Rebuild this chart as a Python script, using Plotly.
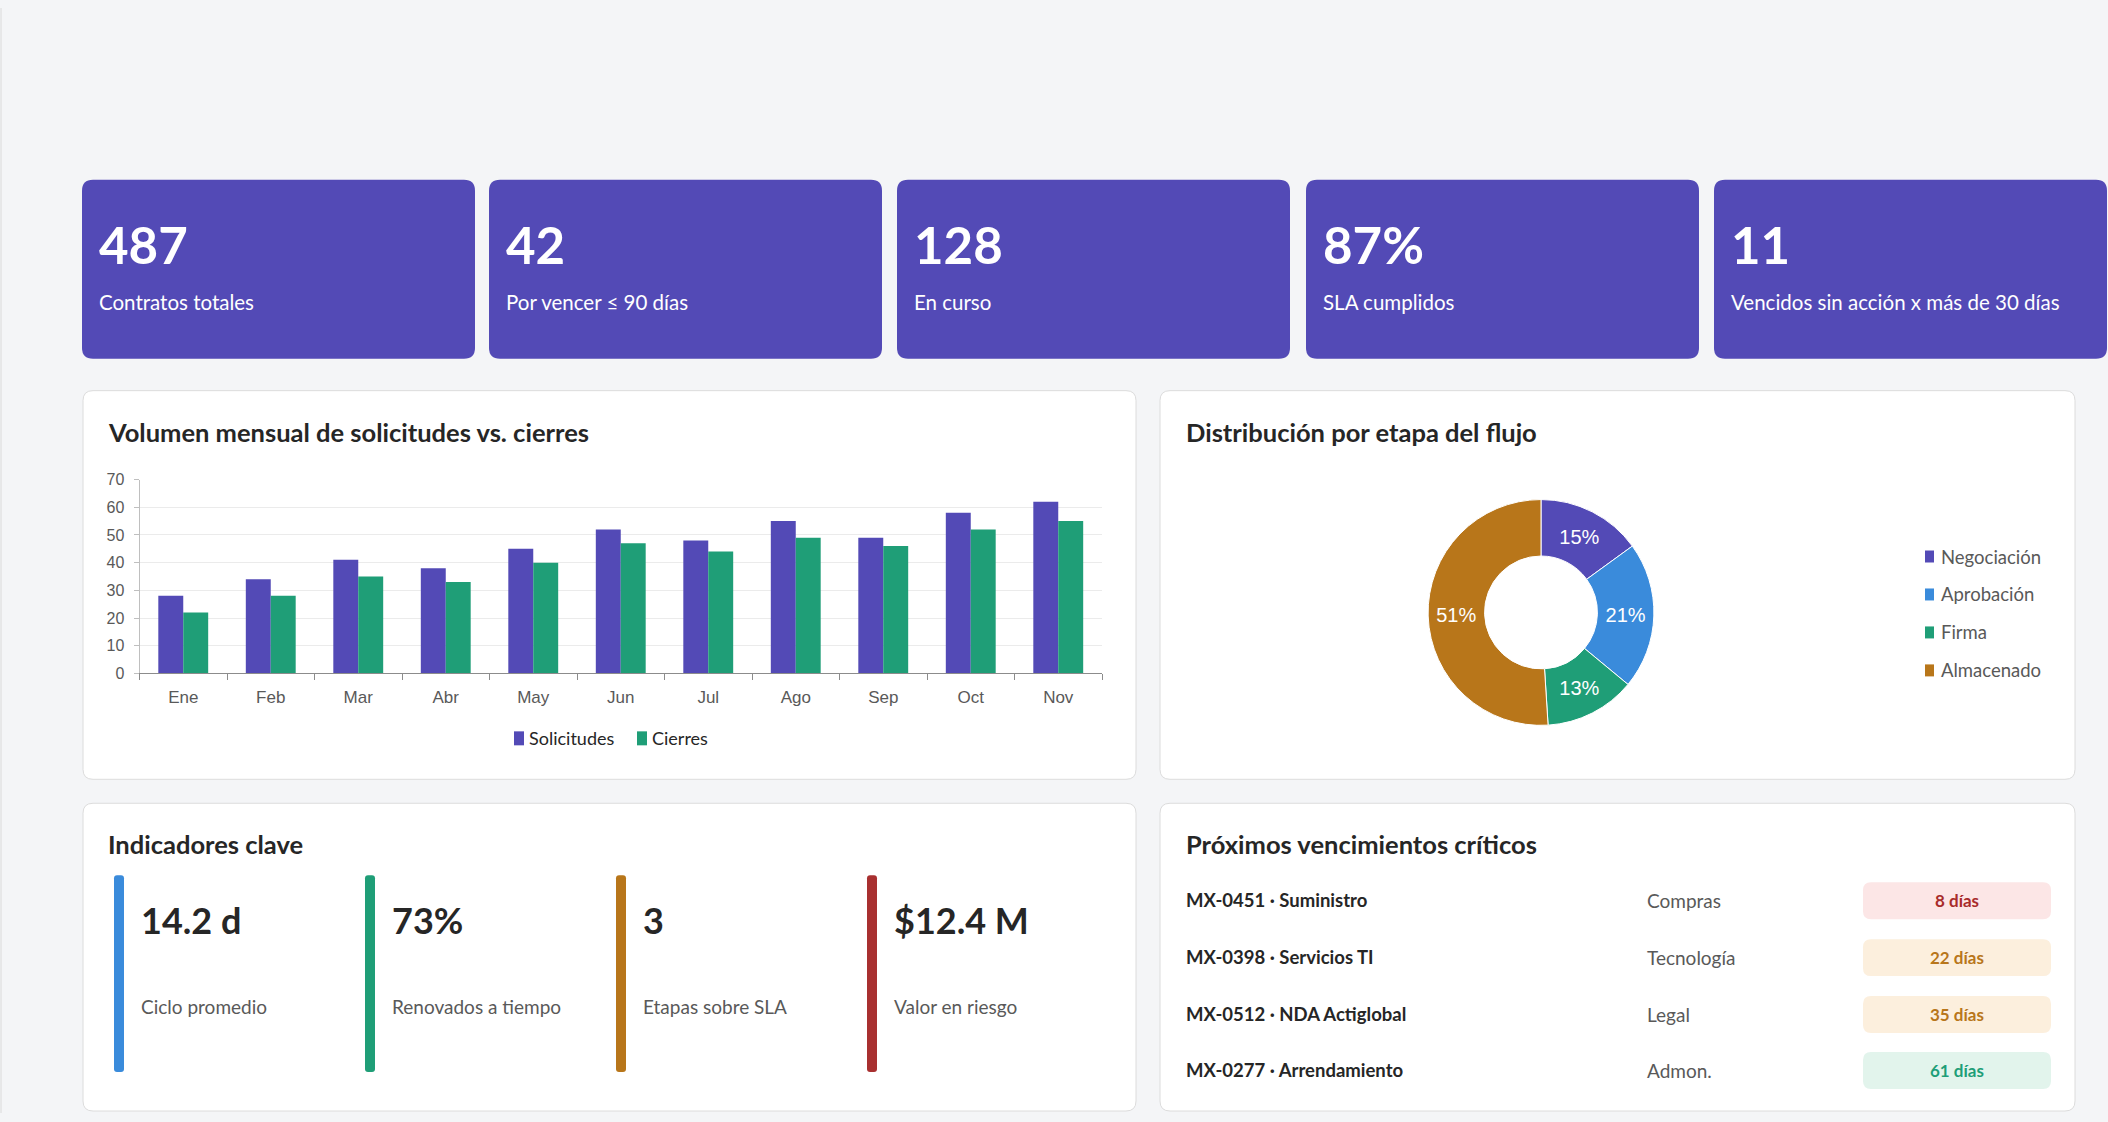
import plotly.graph_objects as go

W, H = 2108, 1122

# ---------------- data ----------------
kpi_values = ["487", "42", "128", "87%", "11"]
kpi_labels = ["Contratos totales", "Por vencer ≤ 90 días", "En curso", "SLA cumplidos",
              "Vencidos sin acción x más de 30 días"]

months = ["Ene", "Feb", "Mar", "Abr", "May", "Jun", "Jul", "Ago", "Sep", "Oct", "Nov"]
solicitudes = [28, 34, 41, 38, 45, 52, 48, 55, 49, 58, 62]
cierres = [22, 28, 35, 33, 40, 47, 44, 49, 46, 52, 55]
bar_series = ["Solicitudes", "Cierres"]

stages = ["Negociación", "Aprobación", "Firma", "Almacenado"]
stage_share = [15, 21, 13, 51]

ind_values = ["14.2 d", "73%", "3", "$12.4 M"]
ind_labels = ["Ciclo promedio", "Renovados a tiempo", "Etapas sobre SLA", "Valor en riesgo"]

venc_ids = ["MX-0451 · Suministro", "MX-0398 · Servicios TI", "MX-0512 · NDA Actiglobal",
            "MX-0277 · Arrendamiento"]
venc_areas = ["Compras", "Tecnología", "Legal", "Admon."]
venc_days = ["8 días", "22 días", "35 días", "61 días"]
venc_level = ["alto", "medio", "medio", "bajo"]

# ---------------- styles ----------------
INDIGO = "#534AB6"
GREEN = "#1F9E77"
BLUE = "#3A8BDB"
BROWN = "#B8761A"
RED = "#A83030"
BG = "#F4F5F7"
DARK = "#262626"
GRAY = "#595959"
FONT = "Lato"
AXFONT = "Liberation Sans"
stage_colors = [INDIGO, BLUE, GREEN, BROWN]
bar_colors = [INDIGO, GREEN]
ind_colors = [BLUE, GREEN, BROWN, RED]
badge_style = {"alto": ("#FCE6E6", "#A82B2B"), "medio": ("#FCEFDD", "#B8761A"),
               "bajo": ("#E2F4EC", "#1E9E78")}

# vertical calibration of the page (observed offset/scale of the rendered page)
Y_OFF, Y_SCALE = 8.0, 1106.0 / 1122.0


def px(x):
    return x / W


def py(y):
    return 1 - ((y - Y_OFF) / Y_SCALE) / H


def rrect(x0, y0, x1, y1, r, fill, line=None, lw=0):
    path = (f"M {px(x0 + r)},{py(y0)} L {px(x1 - r)},{py(y0)} Q {px(x1)},{py(y0)} {px(x1)},{py(y0 + r)} "
            f"L {px(x1)},{py(y1 - r)} Q {px(x1)},{py(y1)} {px(x1 - r)},{py(y1)} "
            f"L {px(x0 + r)},{py(y1)} Q {px(x0)},{py(y1)} {px(x0)},{py(y1 - r)} "
            f"L {px(x0)},{py(y0 + r)} Q {px(x0)},{py(y0)} {px(x0 + r)},{py(y0)} Z")
    return dict(type="path", path=path, xref="paper", yref="paper", fillcolor=fill,
                line=dict(color=line or fill, width=lw), layer="below")


shapes = []
annotations = []


def text(x, y, s, size, color, anchor="left", bold=False, family=FONT):
    annotations.append(dict(x=px(x), y=py(y), xref="paper", yref="paper", showarrow=False,
                            text=f"<b>{s}</b>" if bold else s, xanchor=anchor, yanchor="middle",
                            font=dict(family=family, size=size, color=color)))


# left thin border line
shapes.append(dict(type="line", xref="paper", yref="paper", x0=px(1), x1=px(1), y0=0, y1=1,
                   line=dict(color="#DADADA", width=1), layer="below"))

# ---------------- KPI cards ----------------
card_x = [82, 489, 897, 1306, 1714]
for i, (v, lab) in enumerate(zip(kpi_values, kpi_labels)):
    x0 = card_x[i]
    shapes.append(rrect(x0, 180, x0 + 393, 359, 11, INDIGO))
    text(x0 + 15, 245, v, 51, "white", bold=True)
    text(x0 + 15, 302, lab, 20.5, "white")

# ---------------- panels ----------------
for (x0, y0, x1, y1) in [(83, 391, 1136, 780), (1160, 391, 2075, 780),
                         (83, 804, 1136, 1112), (1160, 804, 2075, 1112)]:
    shapes.append(rrect(x0, y0, x1, y1, 10, "white", "#DCDCDC", 1))

text(106, 432, "Volumen mensual de solicitudes vs. cierres", 25.5, DARK, bold=True)
text(1184, 432, "Distribución por etapa del flujo", 25.5, DARK, bold=True)
text(106, 845, "Indicadores clave", 25.5, DARK, bold=True)
text(1184, 845, "Próximos vencimientos críticos", 25.5, DARK, bold=True)

# ---------------- bar chart ----------------
fig = go.Figure()
for name, vals, col in zip(bar_series, [solicitudes, cierres], bar_colors):
    fig.add_trace(go.Bar(x=months, y=vals, name=name, marker_color=col,
                         marker_line_width=0, showlegend=False))

# bar legend (drawn manually to match compact spacing)
leg_x = [514, 637]
for s, c, lx in zip(bar_series, bar_colors, leg_x):
    shapes.append(dict(type="rect", xref="paper", yref="paper", x0=px(lx), x1=px(lx + 10),
                       y0=py(746), y1=py(732), fillcolor=c, line=dict(width=0)))
    text(lx + 13, 739, s, 18, DARK)

# ---------------- donut ----------------
cx, cy, R = 1541, 613, 113
fig.add_trace(go.Pie(labels=stages, values=stage_share, hole=0.5, sort=False,
                     direction="clockwise", rotation=0,
                     marker=dict(colors=stage_colors, line=dict(color="white", width=1)),
                     textinfo="percent", texttemplate="%{percent:.0%}", textposition="inside",
                     insidetextorientation="horizontal",
                     textfont=dict(family=AXFONT, size=20, color="white"),
                     domain=dict(x=[px(cx - R), px(cx + R)], y=[py(cy + R), py(cy - R)]),
                     showlegend=False))

# donut legend
for i, (s, c) in enumerate(zip(stages, stage_colors)):
    yy = 557 + i * 38
    shapes.append(dict(type="rect", xref="paper", yref="paper", x0=px(1925), x1=px(1934),
                       y0=py(yy + 6), y1=py(yy - 6), fillcolor=c, line=dict(width=0)))
    text(1939, yy, s, 18.5, GRAY)

# ---------------- indicadores clave ----------------
ind_x = [114, 365, 616, 867]
for i, (v, lab, c) in enumerate(zip(ind_values, ind_labels, ind_colors)):
    x0 = ind_x[i]
    shapes.append(rrect(x0, 876, x0 + 10, 1073, 3, c))
    text(x0 + 25, 921, v, 36, DARK, bold=True)
    text(x0 + 25, 1007, lab, 19, GRAY)

# ---------------- vencimientos ----------------
row_y = [901, 958, 1015, 1071]
for i in range(len(venc_ids)):
    yy = row_y[i]
    text(1184, yy, venc_ids[i], 18.5, DARK, bold=True)
    text(1645, yy, venc_areas[i], 19, GRAY)
    bg, fg = badge_style[venc_level[i]]
    shapes.append(rrect(1863, yy - 18, 2051, yy + 19, 8, bg))
    text(1957, yy, venc_days[i], 17, fg, anchor="center", bold=True)

fig.update_layout(
    width=W, height=H, autosize=False, margin=dict(l=0, r=0, t=0, b=0),
    paper_bgcolor=BG, plot_bgcolor="rgba(0,0,0,0)",
    barmode="group", bargap=0.43, bargroupgap=0,
    shapes=shapes, annotations=annotations,
    font=dict(family=FONT), showlegend=False,
    xaxis=dict(domain=[px(139.5), px(1102)], showline=True, linecolor="#8C8C8C", linewidth=1,
               ticks="outside", tickson="boundaries", ticklen=6, tickcolor="#8C8C8C",
               ticklabelstandoff=8,
               tickfont=dict(family=AXFONT, size=17, color=GRAY), showgrid=False,
               fixedrange=True),
    yaxis=dict(domain=[py(674), py(480)], range=[0, 70], dtick=10, showline=True,
               linecolor="#BFBFBF", linewidth=1, ticks="outside", ticklen=5, tickcolor="#BFBFBF",
               ticklabelstandoff=6,
               gridcolor="#EBEBEB", gridwidth=1, zeroline=False,
               tickfont=dict(family=AXFONT, size=16, color=GRAY), fixedrange=True),
)

fig.write_html("out.html")
